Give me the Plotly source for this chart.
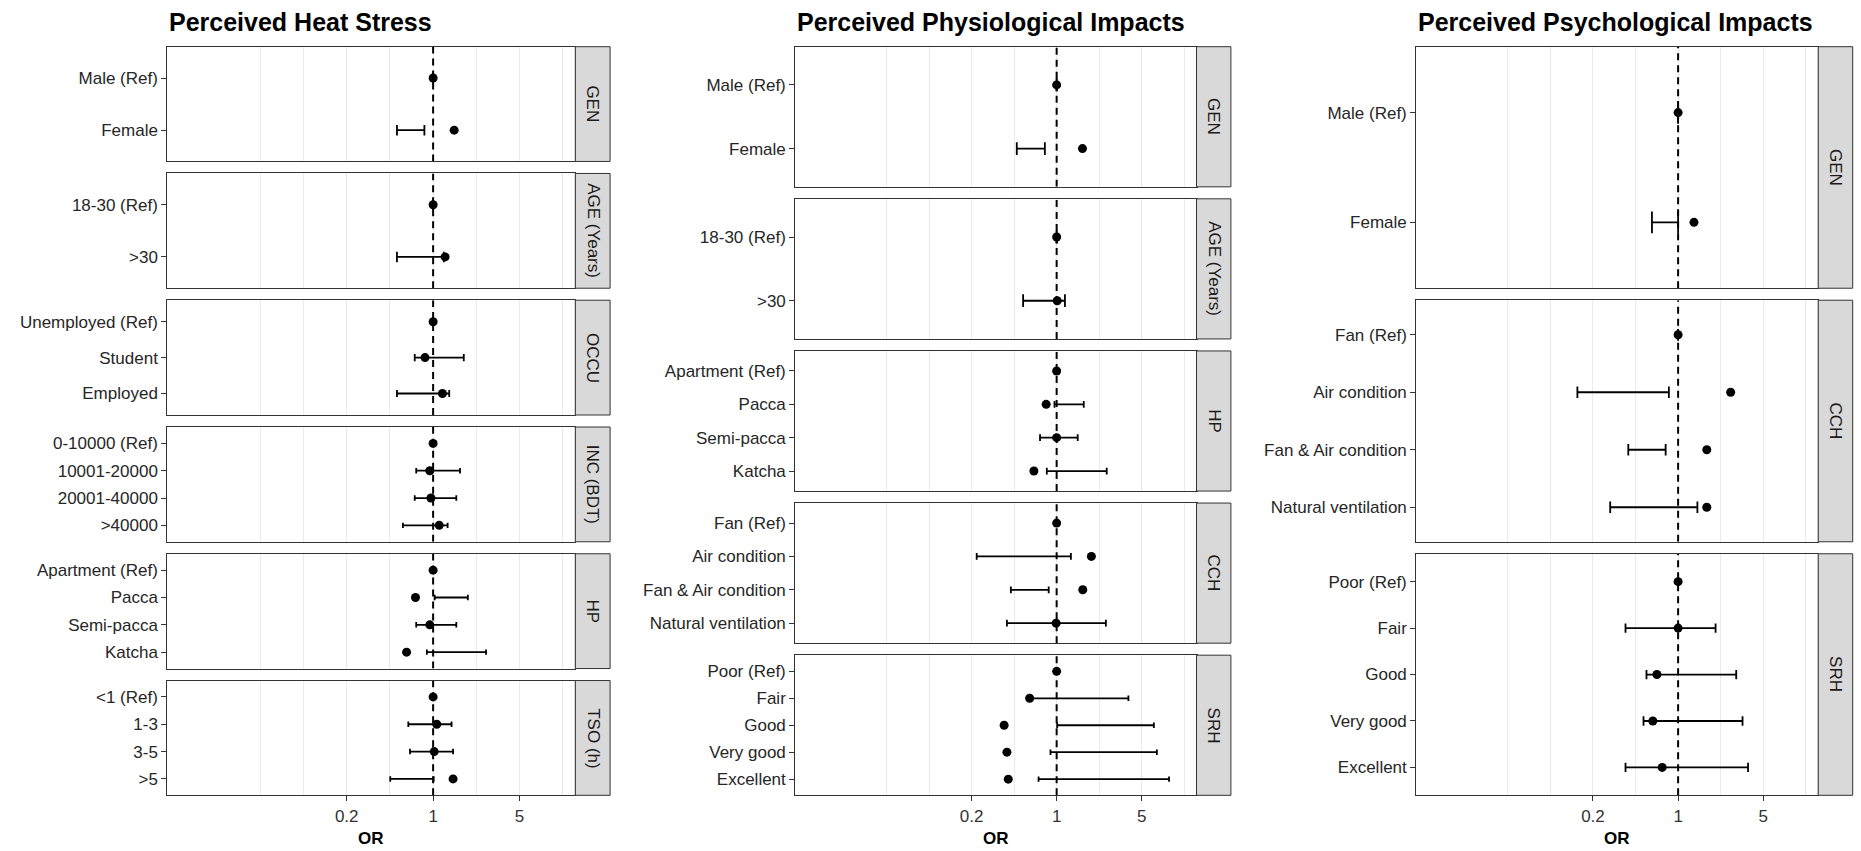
import math
import plotly.graph_objects as go

# ---------------- data ----------------
# Perceived Heat Stress
hs_facet = ["GEN", "GEN", "AGE (Years)", "AGE (Years)",
            "OCCU", "OCCU", "OCCU",
            "INC (BDT)", "INC (BDT)", "INC (BDT)", "INC (BDT)",
            "HP", "HP", "HP", "HP",
            "TSO (h)", "TSO (h)", "TSO (h)", "TSO (h)"]
hs_label = ["Male (Ref)", "Female", "18-30 (Ref)", ">30",
            "Unemployed (Ref)", "Student", "Employed",
            "0-10000 (Ref)", "10001-20000", "20001-40000", ">40000",
            "Apartment (Ref)", "Pacca", "Semi-pacca", "Katcha",
            "<1 (Ref)", "1-3", "3-5", ">5"]
hs_or = [1, 1.48, 1, 1.25, 1, 0.86, 1.19, 1, 0.94, 0.96, 1.12,
         1, 0.72, 0.94, 0.61, 1, 1.07, 1.02, 1.45]
hs_lo = [1, 0.51, 1, 0.51, 1, 0.71, 0.51, 1, 0.73, 0.71, 0.57,
         1, 1.03, 0.73, 0.89, 1, 0.63, 0.65, 0.45]
hs_hi = [1, 0.85, 1, 1.22, 1, 1.77, 1.35, 1, 1.65, 1.54, 1.31,
         1, 1.91, 1.54, 2.68, 1, 1.41, 1.45, 1.01]

# Perceived Physiological Impacts
ph_facet = ["GEN", "GEN", "AGE (Years)", "AGE (Years)",
            "HP", "HP", "HP", "HP",
            "CCH", "CCH", "CCH", "CCH",
            "SRH", "SRH", "SRH", "SRH", "SRH"]
ph_label = ["Male (Ref)", "Female", "18-30 (Ref)", ">30",
            "Apartment (Ref)", "Pacca", "Semi-pacca", "Katcha",
            "Fan (Ref)", "Air condition", "Fan & Air condition", "Natural ventilation",
            "Poor (Ref)", "Fair", "Good", "Very good", "Excellent"]
ph_or = [1, 1.63, 1, 1.01, 1, 0.82, 1.0, 0.65, 1, 1.93, 1.64, 0.99,
         1, 0.60, 0.37, 0.39, 0.40]
ph_lo = [1, 0.47, 1, 0.53, 1, 0.96, 0.73, 0.83, 1, 0.22, 0.42, 0.39,
         1, 0.60, 1.01, 0.89, 0.71]
ph_hi = [1, 0.80, 1, 1.17, 1, 1.67, 1.49, 2.58, 1, 1.31, 0.86, 2.54,
         1, 3.89, 6.3, 6.67, 8.4]

# Perceived Psychological Impacts
ps_facet = ["GEN", "GEN",
            "CCH", "CCH", "CCH", "CCH",
            "SRH", "SRH", "SRH", "SRH", "SRH"]
ps_label = ["Male (Ref)", "Female",
            "Fan (Ref)", "Air condition", "Fan & Air condition", "Natural ventilation",
            "Poor (Ref)", "Fair", "Good", "Very good", "Excellent"]
ps_or = [1, 1.35, 1, 2.70, 1.72, 1.72, 1, 1.0, 0.67, 0.62, 0.74]
ps_lo = [1, 0.61, 1, 0.149, 0.39, 0.277, 1, 0.37, 0.55, 0.52, 0.37]
ps_hi = [1, 1.0, 1, 0.84, 0.79, 1.44, 1, 2.03, 3.0, 3.38, 3.75]

x_ticks = [0.2, 1, 5]
x_tick_text = ["0.2", "1", "5"]
x_minor = [0.04, 0.0894, 0.447, 2.236, 11.18]
x_limits = [0.01, 10]
ref_value = 1

# ---------------- layout ----------------
W, H = 1861, 851
TOP, BOTTOM, GAP = 46.7, 795.3, 12.0
FONT = "Liberation Sans, Arial, Helvetica, sans-serif"
INK = "#333333"
GRID = "#EBEBEB"

columns = [
    dict(title="Perceived Heat Stress", facet=hs_facet, label=hs_label,
         est=hs_or, lo=hs_lo, hi=hs_hi, left=167.3, right=575.3, strip=610.1),
    dict(title="Perceived Physiological Impacts", facet=ph_facet, label=ph_label,
         est=ph_or, lo=ph_lo, hi=ph_hi, left=795.2, right=1196.5, strip=1230.9),
    dict(title="Perceived Psychological Impacts", facet=ps_facet, label=ps_label,
         est=ps_or, lo=ps_lo, hi=ps_hi, left=1416.2, right=1818.2, strip=1852.7),
]

lg0, lg1 = math.log10(x_limits[0]), math.log10(x_limits[1])
xpad = 0.05 * (lg1 - lg0)
x_range = [lg0 - xpad, lg1 + xpad]

fig = go.Figure()
layout = dict(width=W, height=H, margin=dict(l=0, r=0, t=0, b=0),
              paper_bgcolor="white", plot_bgcolor="white", showlegend=False,
              font=dict(family=FONT, color=INK))
shapes, annotations = [], []

k = 0
for col in columns:
    facets = []
    for f in col["facet"]:
        if f not in facets:
            facets.append(f)
    nf = len(facets)
    h = (BOTTOM - TOP - GAP * (nf - 1)) / nf
    xd = [col["left"] / W, col["right"] / W]

    annotations.append(dict(text="<b>" + col["title"] + "</b>", xref="paper", yref="paper",
                            x=col["left"] / W, y=1 - 22 / H, xanchor="left", yanchor="middle",
                            showarrow=False, font=dict(size=25, color="black", family=FONT)))
    annotations.append(dict(text="<b>OR</b>", xref="paper", yref="paper",
                            x=(col["left"] + col["right"]) / 2 / W, y=1 - 838 / H,
                            xanchor="center", yanchor="middle", showarrow=False,
                            font=dict(size=17, color="black", family=FONT)))

    for fi, f in enumerate(facets):
        k += 1
        sfx = "" if k == 1 else str(k)
        idx = [i for i, ff in enumerate(col["facet"]) if ff == f]
        labels = [col["label"][i] for i in idx]
        est = [col["est"][i] for i in idx]
        lo = [col["lo"][i] for i in idx]
        hi = [col["hi"][i] for i in idx]
        n = len(idx)
        ys = list(range(n))
        top = TOP + fi * (h + GAP)
        bot = top + h
        is_bottom = fi == nf - 1
        y_range = [n - 1 + 0.6, -0.6]

        # reference line at OR = 1 (drawn first, under the marks)
        fig.add_trace(go.Scatter(x=[ref_value, ref_value], y=y_range, mode="lines",
                                 line=dict(color="black", width=2, dash="7px,5px"),
                                 xaxis="x" + sfx, yaxis="y" + sfx, hoverinfo="skip"))

        # error bars (horizontal with caps of height 0.2)
        ex, ey = [], []
        for y, a, b in zip(ys, lo, hi):
            ex += [a, b, None, a, a, None, b, b, None]
            ey += [y, y, None, y - 0.1, y + 0.1, None, y - 0.1, y + 0.1, None]
        fig.add_trace(go.Scatter(x=ex, y=ey, mode="lines",
                                 line=dict(color="black", width=1.8),
                                 xaxis="x" + sfx, yaxis="y" + sfx, hoverinfo="skip"))
        fig.add_trace(go.Scatter(x=est, y=ys, mode="markers",
                                 marker=dict(color="black", size=9),
                                 xaxis="x" + sfx, yaxis="y" + sfx))

        layout["xaxis" + sfx] = dict(
            domain=xd, anchor="y" + sfx, type="log", range=x_range,
            tickmode="array", tickvals=x_ticks, ticktext=x_tick_text,
            showticklabels=is_bottom, ticks="outside" if is_bottom else "",
            ticklen=5, tickwidth=1, tickcolor=INK,
            tickfont=dict(size=17, color="#333333"),
            showgrid=True, gridcolor=GRID, gridwidth=1,
            minor=dict(tickmode="array", tickvals=x_minor, showgrid=True,
                       gridcolor=GRID, gridwidth=0.8, ticks=""),
            showline=True, mirror=True, linecolor=INK, linewidth=1,
            zeroline=False, fixedrange=True)
        layout["yaxis" + sfx] = dict(
            domain=[1 - bot / H, 1 - top / H], anchor="x" + sfx,
            range=y_range, tickmode="array", tickvals=ys, ticktext=labels,
            ticks="outside", ticklen=5, tickwidth=1, tickcolor=INK,
            tickfont=dict(size=17, color="#262626"),
            showgrid=False, zeroline=False,
            showline=True, mirror=True, linecolor=INK, linewidth=1, fixedrange=True)

        # strip
        shapes.append(dict(type="rect", xref="paper", yref="paper",
                           x0=col["right"] / W, x1=col["strip"] / W,
                           y0=1 - bot / H, y1=1 - top / H,
                           fillcolor="#D9D9D9", line=dict(color=INK, width=1)))
        annotations.append(dict(text=f, xref="paper", yref="paper",
                                x=(col["right"] + col["strip"]) / 2 / W,
                                y=1 - (top + bot) / 2 / H, xanchor="center", yanchor="middle",
                                textangle=90, showarrow=False,
                                font=dict(size=17, color="#1A1A1A", family=FONT)))

layout["shapes"] = shapes
layout["annotations"] = annotations
fig.update_layout(**layout)
fig.write_html("out.html")
